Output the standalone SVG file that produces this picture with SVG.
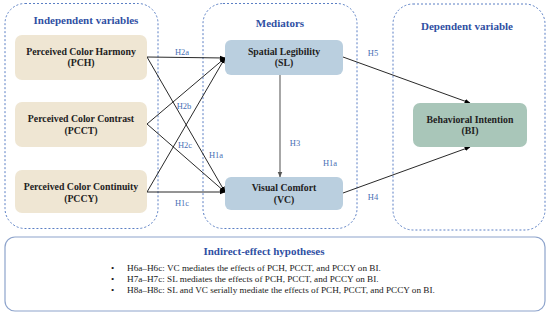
<svg xmlns="http://www.w3.org/2000/svg" width="550" height="315" viewBox="0 0 550 315">
<defs>
<marker id="ah" viewBox="0 0 10 10" refX="9" refY="5" markerWidth="6" markerHeight="6" orient="auto" markerUnits="userSpaceOnUse"><path d="M0,1 L10,5 L0,9 z" fill="#000"/></marker>
<marker id="ahg" viewBox="0 0 10 10" refX="9" refY="5" markerWidth="6" markerHeight="6" orient="auto" markerUnits="userSpaceOnUse"><path d="M0,1 L10,5 L0,9 z" fill="#555"/></marker>
</defs>
<style>
.grp{fill:none;stroke:#5b7fc4;stroke-width:1;stroke-dasharray:2,2}
.title{font-family:"Liberation Serif",serif;font-weight:bold;font-size:11px;fill:#2f4fa3;text-anchor:middle}
.nt{font-family:"Liberation Serif",serif;font-weight:bold;font-size:9.8px;fill:#222;text-anchor:middle}
.iv{fill:#efe6d3}
.med{fill:#bacfdf}
.dv{fill:#a9c6b9}
.lbl{font-family:"Liberation Serif",serif;font-size:8.5px;fill:#4a6fb5;text-anchor:middle}
.c{stroke:#111;stroke-width:0.9;fill:none;marker-end:url(#ah)}
.bt{font-family:"Liberation Serif",serif;font-size:9.2px;fill:#1a1a1a}
</style>
<rect width="550" height="315" fill="#fff"/>
<g id="groups">
<rect class="grp" x="5" y="3.5" width="153" height="225" rx="20"/>
<rect class="grp" x="203" y="3.5" width="154" height="225" rx="20"/>
<rect class="grp" x="393" y="4" width="152" height="226" rx="20"/>
<text class="title" x="86" y="24">Independent variables</text>
<text class="title" x="280" y="27">Mediators</text>
<text class="title" x="467" y="30">Dependent variable</text>
</g>
<g id="connectors">
<line class="c" x1="147" y1="57" x2="225" y2="58"/>
<line class="c" x1="147" y1="124" x2="225" y2="58"/>
<line class="c" x1="147" y1="192" x2="225" y2="58"/>
<line class="c" x1="147" y1="57" x2="225" y2="192"/>
<line class="c" x1="147" y1="124" x2="225" y2="192"/>
<line class="c" x1="147" y1="192" x2="225" y2="192"/>
<line x1="280" y1="75" x2="280" y2="177" stroke="#777" stroke-width="1.3" marker-end="url(#ahg)"/>
<line class="c" x1="343" y1="57" x2="470" y2="103"/>
<line class="c" x1="343" y1="193" x2="470" y2="147"/>
<text class="lbl" x="182" y="55">H2a</text>
<text class="lbl" x="184" y="109">H2b</text>
<text class="lbl" x="185" y="148">H2c</text>
<text class="lbl" x="216" y="158">H1a</text>
<text class="lbl" x="182" y="206">H1c</text>
<text class="lbl" x="295" y="146">H3</text>
<text class="lbl" x="330" y="166">H1a</text>
<text class="lbl" x="373" y="56">H5</text>
<text class="lbl" x="373" y="200">H4</text>
</g>
<g id="PCH">
<rect class="iv" x="15" y="35" width="132" height="45" rx="7"/>
<text class="nt" x="81" y="55">Perceived Color Harmony</text>
<text class="nt" x="81" y="66">(PCH)</text>
</g>
<g id="PCCT">
<rect class="iv" x="15" y="102" width="132" height="45" rx="7"/>
<text class="nt" x="81" y="122">Perceived Color Contrast</text>
<text class="nt" x="81" y="134">(PCCT)</text>
</g>
<g id="PCCY">
<rect class="iv" x="15" y="170" width="132" height="43" rx="7"/>
<text class="nt" x="81" y="190">Perceived Color Continuity</text>
<text class="nt" x="81" y="202">(PCCY)</text>
</g>
<g id="SL">
<rect class="med" x="225" y="40" width="118" height="35" rx="6"/>
<text class="nt" x="284" y="55">Spatial Legibility</text>
<text class="nt" x="284" y="66">(SL)</text>
</g>
<g id="VC">
<rect class="med" x="225" y="177" width="118" height="33" rx="6"/>
<text class="nt" x="284" y="191">Visual Comfort</text>
<text class="nt" x="284" y="203">(VC)</text>
</g>
<g id="BI">
<rect class="dv" x="413" y="103" width="114" height="44" rx="7"/>
<text class="nt" x="470" y="123">Behavioral Intention</text>
<text class="nt" x="470" y="134">(BI)</text>
</g>
<g id="indirect">
<rect x="5" y="237" width="540" height="74" rx="10" fill="none" stroke="#8ea4cc" stroke-width="1.2"/>
<text class="title" x="264" y="255">Indirect-effect hypotheses</text>
<text class="bt" x="111" y="271">•</text>
<text class="bt" x="127" y="271">H6a–H6c: VC mediates the effects of PCH, PCCT, and PCCY on BI.</text>
<text class="bt" x="111" y="282">•</text>
<text class="bt" x="127" y="282">H7a–H7c: SL mediates the effects of PCH, PCCT, and PCCY on BI.</text>
<text class="bt" x="111" y="293">•</text>
<text class="bt" x="127" y="293">H8a–H8c: SL and VC serially mediate the effects of PCH, PCCT, and PCCY on BI.</text>
</g>
</svg>
